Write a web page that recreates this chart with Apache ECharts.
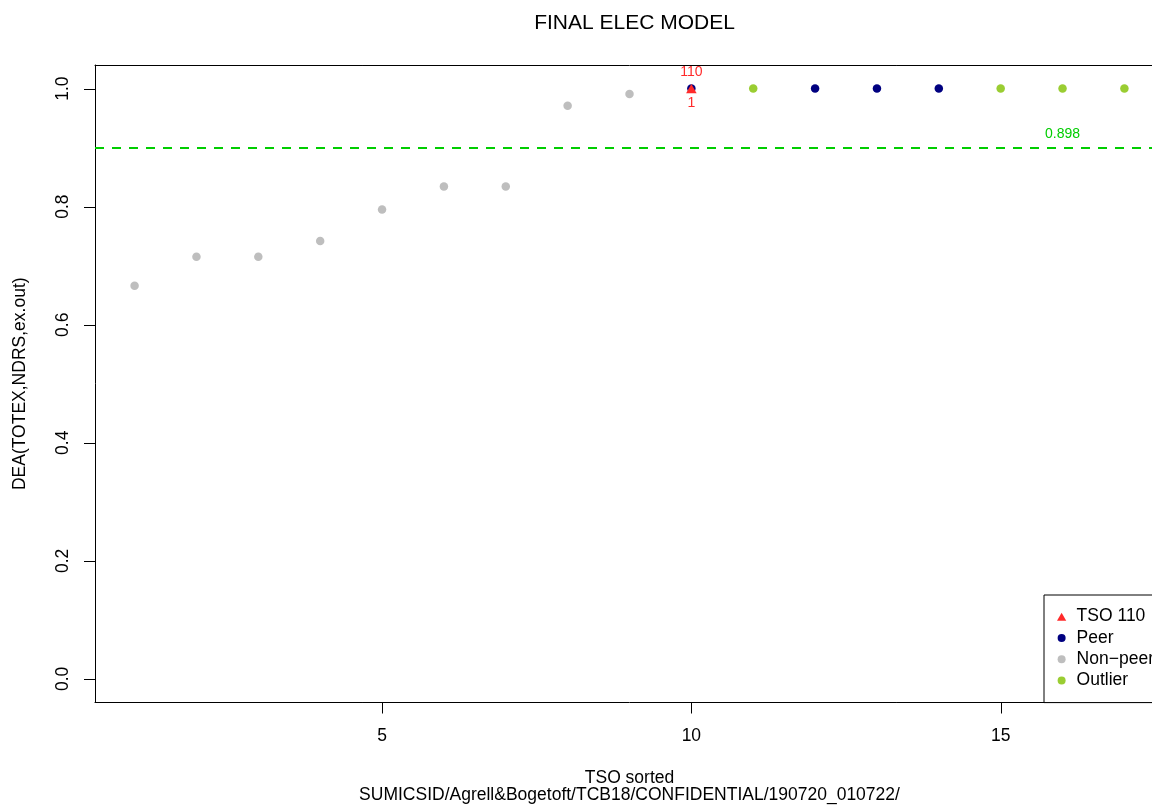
<!DOCTYPE html>
<html>
<head>
<meta charset="utf-8">
<script src="https://cdn.jsdelivr.net/npm/echarts@6/dist/echarts.min.js"></script>
<style>
html,body{margin:0;padding:0;background:#ffffff;overflow:hidden;width:1152px;height:809px;}
#chart{width:1200px;height:809px;}
</style>
</head>
<body>
<div id="chart"></div>
<script>
// ---- data ----
const ranks = [1, 2, 3, 4, 5, 6, 7, 8, 9, 10, 11, 12, 13, 14, 15, 16, 17];
const scores = [0.666, 0.715, 0.715, 0.742, 0.795, 0.834, 0.834, 0.971, 0.991, 1, 1, 1, 1, 1, 1, 1, 1];
const groups = ['Non-peer', 'Non-peer', 'Non-peer', 'Non-peer', 'Non-peer', 'Non-peer', 'Non-peer', 'Non-peer', 'Non-peer',
                'Peer', 'Outlier', 'Peer', 'Peer', 'Peer', 'Outlier', 'Outlier', 'Outlier'];
const tsoRank = 10;
const tsoName = 'TSO 110';
const tsoLabelAbove = '110';
const tsoLabelBelow = '1';
const threshold = 0.898;
const xTicks = [5, 10, 15];
const yTicks = [0, 0.2, 0.4, 0.6, 0.8, 1.0];
const legendNames = ['TSO 110', 'Peer', 'Non\u2212peer', 'Outlier'];

// ---- axis ranges (R-style 4% padding) ----
const X_MIN = 0.36, X_MAX = 17.64;
const Y_MIN = -0.04, Y_MAX = 1.04;

// ---- styling ----
const FONT = 'Liberation Sans, Arial, Helvetica, sans-serif';
const COL = { tso: '#FF2A2A', peer: '#000080', nonpeer: '#BEBEBE', outlier: '#9ACD32', line: '#00CD00' };
const TRI = 'path://M5,0L10,8.66L0,8.66Z';
const TICK_LEN = 11;
const groupKey = { 'Peer': 'Peer', 'Non-peer': 'Non\u2212peer', 'Outlier': 'Outlier' };
const groupColor = { 'Peer': COL.peer, 'Non-peer': COL.nonpeer, 'Outlier': COL.outlier };

function pointsOf(g) {
  const out = [];
  ranks.forEach((r, i) => { if (groups[i] === g) out.push([r, scores[i]]); });
  return out;
}

const tsoScore = scores[ranks.indexOf(tsoRank)];

const chart = echarts.init(document.getElementById('chart'), null, { renderer: 'canvas', width: 1200, height: 809 });

const series = ['Non-peer', 'Peer', 'Outlier'].map(g => ({
  name: groupKey[g],
  type: 'scatter',
  symbol: 'circle',
  symbolSize: 8.5,
  itemStyle: { color: groupColor[g], opacity: 1 },
  emphasis: { disabled: true },
  data: pointsOf(g),
  z: 2
}));

// threshold line + label on the non-peer series
series[0].markLine = {
  silent: true,
  symbol: ['none', 'none'],
  lineStyle: { color: COL.line, width: 2, type: [9, 8], opacity: 1 },
  label: { show: false },
  emphasis: { disabled: true },
  data: [{ yAxis: threshold }]
};
series[0].markPoint = {
  silent: true,
  symbol: 'circle',
  symbolSize: 0,
  data: [{ coord: [16, threshold] }],
  label: {
    show: true,
    formatter: String(threshold),
    color: COL.line,
    fontFamily: FONT,
    fontSize: 14,
    offset: [0, -15]
  }
};

series.push({
  name: tsoName,
  type: 'scatter',
  symbol: TRI,
  symbolSize: 10.5,
  symbolKeepAspect: true,
  itemStyle: { color: COL.tso, opacity: 1 },
  emphasis: { disabled: true },
  data: [[tsoRank, tsoScore]],
  z: 5,
  markPoint: {
    silent: true,
    symbol: 'circle',
    symbolSize: 0,
    data: [
      { coord: [tsoRank, tsoScore], label: { formatter: tsoLabelAbove, offset: [0, -16] } },
      { coord: [tsoRank, tsoScore], label: { formatter: tsoLabelBelow, offset: [0, 15] } }
    ],
    label: { show: true, color: COL.tso, fontFamily: FONT, fontSize: 14 }
  }
});

const boxLine = { show: true, onZero: false, lineStyle: { color: '#000', width: 1 } };

const option = {
  backgroundColor: '#ffffff',
  animation: false,
  textStyle: { fontFamily: FONT },
  title: {
    text: 'FINAL ELEC MODEL',
    left: 629.5,
    textAlign: 'center',
    top: 8,
    textStyle: { fontFamily: FONT, fontSize: 21, fontWeight: 'normal', color: '#000' }
  },
  grid: {
    left: 95, top: 65, width: 1069, height: 637.5,
    show: false,
    containLabel: false
  },
  legend: {
    data: [
      { name: legendNames[0], icon: TRI, itemStyle: { color: COL.tso, opacity: 1 } },
      { name: legendNames[1] },
      { name: legendNames[2] },
      { name: legendNames[3] }
    ],
    orient: 'vertical',
    left: 1044,
    top: 595,
    padding: [11, 30, 11.4, 13],
    itemWidth: 20,
    itemHeight: 8,
    itemGap: 0,
    symbolKeepAspect: true,
    borderColor: '#000',
    borderWidth: 1,
    backgroundColor: '#fff',
    selectedMode: false,
    textStyle: { fontFamily: FONT, fontSize: 17.5, color: '#000', lineHeight: 21.3 }
  },
  xAxis: [{
    type: 'value',
    position: 'bottom',
    min: X_MIN,
    max: X_MAX,
    name: 'TSO sorted\nSUMICSID/Agrell&Bogetoft/TCB18/CONFIDENTIAL/190720_010722/',
    nameLocation: 'middle',
    nameGap: 67,
    nameTextStyle: { fontFamily: FONT, fontSize: 17.5, color: '#000', lineHeight: 17 },
    axisLine: boxLine,
    axisTick: { show: false },
    axisLabel: { show: true, customValues: xTicks, margin: 24.5, fontFamily: FONT, fontSize: 17.5, color: '#000' },
    splitLine: { show: false }
  }, {
    type: 'value',
    position: 'top',
    min: X_MIN,
    max: X_MAX,
    axisLine: boxLine,
    axisTick: { show: false },
    axisLabel: { show: false },
    splitLine: { show: false }
  }],
  yAxis: [{
    type: 'value',
    position: 'left',
    min: Y_MIN,
    max: Y_MAX,
    name: 'DEA(TOTEX,NDRS,ex.out)',
    nameLocation: 'middle',
    nameGap: 66,
    nameTextStyle: { fontFamily: FONT, fontSize: 17.5, color: '#000' },
    axisLine: boxLine,
    axisTick: { show: false },
    axisLabel: {
      show: true, customValues: yTicks, rotate: 90, margin: 23,
      formatter: v => v.toFixed(1),
      fontFamily: FONT, fontSize: 17.5, color: '#000'
    },
    splitLine: { show: false }
  }, {
    type: 'value',
    position: 'right',
    min: Y_MIN,
    max: Y_MAX,
    axisLine: boxLine,
    axisTick: { show: false },
    axisLabel: { show: false },
    splitLine: { show: false }
  }],
  series: series
};

chart.setOption(option);

// outward tick marks as graphic lines, positioned through the axis scales
function addTicks() {
  const finder = { xAxisIndex: 0, yAxisIndex: 0 };
  const els = [];
  xTicks.forEach(v => {
    const p = chart.convertToPixel(finder, [v, Y_MIN]);
    const x = Math.round(p[0]) + 0.5;
    els.push({ type: 'line', silent: true, z: 100, shape: { x1: x, y1: p[1], x2: x, y2: p[1] + TICK_LEN }, style: { stroke: '#000', lineWidth: 1 } });
  });
  yTicks.forEach(v => {
    const p = chart.convertToPixel(finder, [X_MIN, v]);
    const y = Math.round(p[1]) + 0.5;
    els.push({ type: 'line', silent: true, z: 100, shape: { x1: p[0], y1: y, x2: p[0] - TICK_LEN, y2: y }, style: { stroke: '#000', lineWidth: 1 } });
  });
  chart.setOption({ graphic: { elements: els } });
}
addTicks();
</script>
</body>
</html>
